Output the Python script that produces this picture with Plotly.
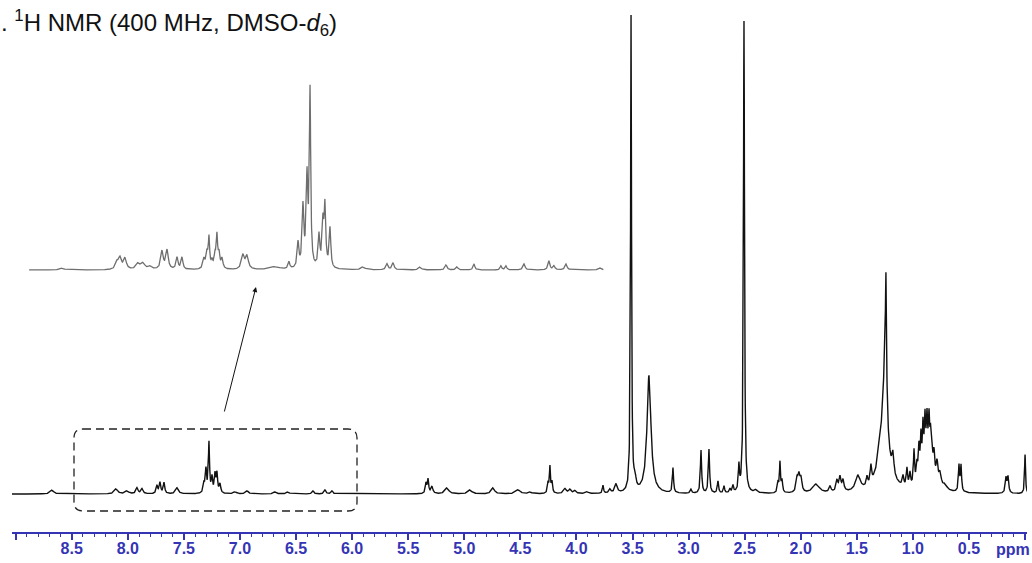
import numpy as np
import plotly.graph_objects as go

# ---------------- data: main 1H NMR spectrum peak table ----------------
main_ppm = [8.676, 8.105, 8.007, 7.918, 7.873, 7.740, 7.713, 7.677, 7.561,
            7.321, 7.303, 7.276, 7.249, 7.222, 7.205, 7.178, 7.044, 6.937,
            6.688, 6.572, 6.349, 6.242, 6.179, 5.341, 5.323, 5.288, 5.154,
            4.949, 4.744, 4.521, 4.414, 4.253, 4.236, 4.218, 4.102, 4.057,
            4.013, 3.906, 3.763, 3.701, 3.647, 3.513, 3.478, 3.353, 3.139,
            2.979, 2.889, 2.818, 2.738, 2.684, 2.631, 2.604, 2.551, 2.506,
            2.399, 2.203, 2.185, 2.167, 2.033, 2.016, 1.998, 1.864, 1.739,
            1.677, 1.650, 1.623, 1.490, 1.409, 1.374, 1.293, 1.255, 1.249,
            1.240, 1.178, 1.088, 1.053, 1.026, 0.990, 0.964, 0.946, 0.928,
            0.910, 0.892, 0.874, 0.856, 0.843, 0.830, 0.812, 0.785, 0.758,
            0.714, 0.875, 0.589, 0.571, 0.170, 0.152, 0.000]
main_height = [4, 5, 3, 6, 5, 8, 11, 11, 6,
               9, 23, 50, 15, 18, 19, 9, 2, 3,
               2, 2, 3, 4, 3, 10, 14, 7, 6,
               4, 6, 4, 2, 10, 26, 11, 5, 4,
               3, 2, 8, 4, 9, 476, 12, 118, 25,
               4, 43, 44, 12, 7, 4, 7, 25, 472,
               3, 10, 30, 12, 13, 15, 13, 9, 6,
               11, 14, 11, 15, 9, 17, 18, 32, 92,
               108, 20, 10, 18, 13, 34, 16, 31, 36,
               41, 41, 38, 41, 28, 20, 24, 20, 13,
               5, 34, 26, 26, 15, 16, 39]
main_width = [0.036, 0.036, 0.036, 0.022, 0.022, 0.016, 0.016, 0.016, 0.030,
              0.016, 0.014, 0.012, 0.014, 0.014, 0.014, 0.016, 0.030, 0.030,
              0.030, 0.030, 0.020, 0.020, 0.020, 0.014, 0.014, 0.020, 0.040,
              0.040, 0.035, 0.045, 0.030, 0.013, 0.011, 0.013, 0.030, 0.025,
              0.025, 0.030, 0.012, 0.020, 0.025, 0.010, 0.020, 0.042, 0.012,
              0.015, 0.013, 0.013, 0.013, 0.013, 0.013, 0.013, 0.012, 0.011,
              0.030, 0.013, 0.011, 0.013, 0.020, 0.020, 0.020, 0.070, 0.020,
              0.020, 0.020, 0.020, 0.050, 0.015, 0.015, 0.050, 0.130, 0.042,
              0.011, 0.020, 0.015, 0.013, 0.013, 0.012, 0.014, 0.014, 0.012,
              0.012, 0.012, 0.012, 0.012, 0.012, 0.014, 0.016, 0.020, 0.025,
              0.040, 0.100, 0.012, 0.012, 0.015, 0.015, 0.010]

# ---------------- data: expanded inset (aromatic region) ----------------
inset_ppm = [8.587, 8.096, 8.069, 8.025, 7.909, 7.864, 7.802, 7.695, 7.650,
             7.561, 7.517, 7.321, 7.294, 7.276, 7.249, 7.222, 7.205, 7.187,
             7.160, 6.973, 6.937, 6.688, 6.563, 6.482, 6.438, 6.402, 6.375,
             6.295, 6.260, 6.242, 6.197, 5.903, 5.689, 5.635, 5.395, 5.163,
             5.065, 4.913, 4.673, 4.628, 4.467, 4.245, 4.200, 4.093, 3.790]
inset_height = [2, 7, 11, 11, 6, 6, 3, 18, 19,
                12, 12, 10, 15, 30, 7, 13, 31, 14,
                10, 14, 13, 3, 7, 25, 60, 88, 174,
                32, 42, 60, 40, 3, 6, 7, 3, 5,
                3, 6, 4, 4, 6, 9, 4, 6, 2]
inset_width = [0.040, 0.030, 0.030, 0.030, 0.040, 0.040, 0.040, 0.026, 0.026,
               0.020, 0.020, 0.022, 0.018, 0.014, 0.018, 0.018, 0.014, 0.018,
               0.020, 0.030, 0.030, 0.100, 0.018, 0.018, 0.018, 0.018, 0.014,
               0.018, 0.017, 0.017, 0.017, 0.040, 0.022, 0.022, 0.030, 0.022,
               0.022, 0.018, 0.018, 0.018, 0.022, 0.020, 0.020, 0.022, 0.030]
inset_span = [8.88, 3.76]

tick_vals = [9.0, 8.5, 8.0, 7.5, 7.0, 6.5, 6.0, 5.5, 5.0, 4.5, 4.0, 3.5,
             3.0, 2.5, 2.0, 1.5, 1.0, 0.5, 0.0]
tick_text = ["", "8.5", "8.0", "7.5", "7.0", "6.5", "6.0", "5.5", "5.0", "4.5",
             "4.0", "3.5", "3.0", "2.5", "2.0", "1.5", "1.0", "0.5", ""]


def lorentz_sum(grid, centers, heights, widths):
    c = np.asarray(centers, float)[:, None]
    h = np.asarray(heights, float)[:, None]
    hw = np.asarray(widths, float)[:, None] / 2.0
    return (h / (1.0 + ((grid[None, :] - c) / hw) ** 2)).sum(axis=0)


grid = np.union1d(np.arange(-0.03, 9.06, 0.0015), np.asarray(main_ppm))
main_y = lorentz_sum(grid, main_ppm, main_height, main_width)

igrid = np.union1d(np.arange(inset_span[1], inset_span[0], 0.0015), np.asarray(inset_ppm))
inset_y = lorentz_sum(igrid, inset_ppm, inset_height, inset_width)

W, H = 1032, 563
PLOT_H = 532  # plot area height (bottom margin 31)
BLUE = "#3434b4"
FONT = "Liberation Sans, Arial"


def px(x):
    return x / W


def py(y):
    return 1 - y / PLOT_H


fig = go.Figure()
fig.add_trace(go.Scatter(x=grid, y=main_y, mode="lines",
                         line=dict(color="#111111", width=1.4),
                         hoverinfo="skip", showlegend=False))
fig.add_trace(go.Scatter(x=igrid, y=inset_y, mode="lines", yaxis="y2",
                         line=dict(color="#6e6e6e", width=1.3),
                         hoverinfo="skip", showlegend=False))

# dashed rounded box around the expanded region
x0, x1, y0, y1, r = 74, 357, 429, 511, 9
path = (f"M {px(x0 + r)},{py(y0)} L {px(x1 - r)},{py(y0)} "
        f"Q {px(x1)},{py(y0)} {px(x1)},{py(y0 + r)} L {px(x1)},{py(y1 - r)} "
        f"Q {px(x1)},{py(y1)} {px(x1 - r)},{py(y1)} L {px(x0 + r)},{py(y1)} "
        f"Q {px(x0)},{py(y1)} {px(x0)},{py(y1 - r)} L {px(x0)},{py(y0 + r)} "
        f"Q {px(x0)},{py(y0)} {px(x0 + r)},{py(y0)} Z")
fig.add_shape(type="path", xref="paper", yref="paper", path=path,
              line=dict(color="#222222", width=1.3, dash="8px,5px"))

fig.add_annotation(xref="paper", yref="paper", x=px(256), y=py(287),
                   ax=224 - 256, ay=413 - 287, text="", showarrow=True,
                   arrowhead=2, arrowsize=1, arrowwidth=1, arrowcolor="#111111",
                   standoff=0)

fig.add_annotation(xref="paper", yref="paper", x=0, y=py(4), xanchor="left",
                   yanchor="top", xshift=-1, showarrow=False,
                   text=". <sup>1</sup>H NMR (400 MHz, DMSO-<i>d</i><sub>6</sub>)",
                   font=dict(family=FONT, size=24, color="#111111"))

fig.add_annotation(xref="paper", yref="paper", x=px(1013), y=py(549),
                   xanchor="center", yanchor="middle", showarrow=False,
                   text="ppm",
                   font=dict(family=FONT, size=16, color=BLUE, weight="bold"))

x_left = 8.5 + (71.7 - 12) / 112.16
x_right = 8.5 - (1027 - 71.7) / 112.16

fig.update_layout(
    width=W, height=H,
    margin=dict(l=0, r=0, t=0, b=H - PLOT_H),
    paper_bgcolor="white", plot_bgcolor="white",
    xaxis=dict(domain=[px(12), px(1027)], range=[x_left, x_right],
               showgrid=False, zeroline=False, showline=True,
               linecolor=BLUE, linewidth=1.5,
               tickmode="array", tickvals=tick_vals, ticktext=tick_text,
               ticks="outside", ticklen=6, tickwidth=1.5, tickcolor=BLUE,
               ticklabelstandoff=-5,
               tickfont=dict(family=FONT, size=16, color=BLUE, weight="bold"),
               minor=dict(tickmode="linear", tick0=0, dtick=0.1, ticks="outside",
                          ticklen=3, tickwidth=1.2, tickcolor=BLUE),
               fixedrange=True),
    yaxis=dict(range=[-38, 494], visible=False, fixedrange=True),
    yaxis2=dict(range=[-262, 270], visible=False, overlaying="y",
                fixedrange=True),
)

fig.write_html("out.html")
